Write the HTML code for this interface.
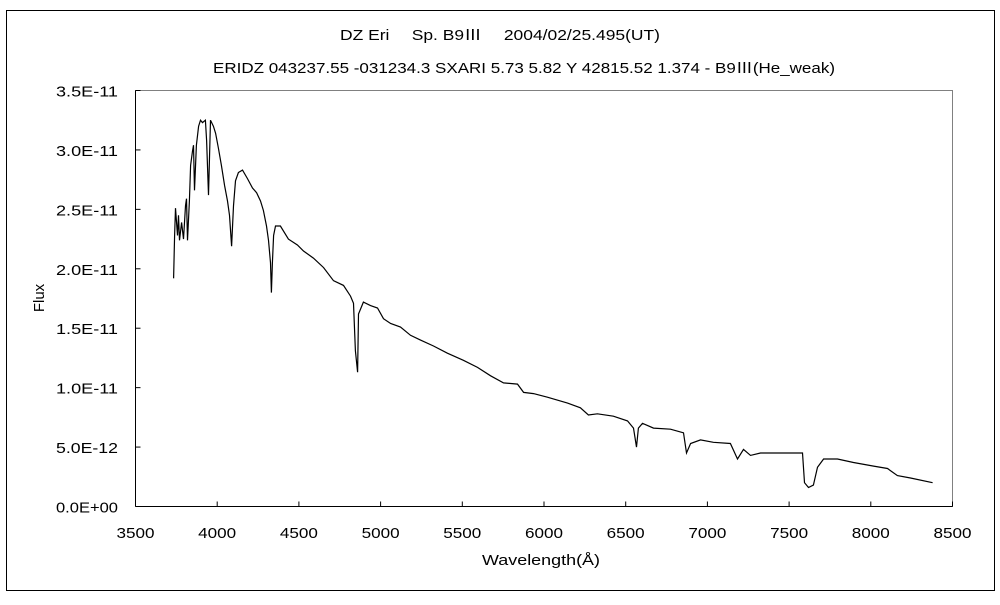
<!DOCTYPE html>
<html><head><meta charset="utf-8"><style>
html,body{margin:0;padding:0;background:#fff;}
svg text{font-family:"Liberation Sans","Noto Sans CJK JP",sans-serif;font-size:15px;fill:#000;}
</style></head><body>
<svg id="chart" width="1000" height="600" xmlns="http://www.w3.org/2000/svg">
<rect x="6.5" y="10.5" width="988" height="580" fill="#fff" stroke="#000" stroke-width="1"/>
<text x="500" y="40" text-anchor="middle" textLength="320" lengthAdjust="spacingAndGlyphs">DZ Eri　 Sp. B9Ⅲ　 2004/02/25.495(UT)</text>
<text x="524" y="73" text-anchor="middle" textLength="622" lengthAdjust="spacingAndGlyphs">ERIDZ 043237.55 -031234.3 SXARI 5.73 5.82 Y 42815.52 1.374 - B9Ⅲ(He_weak)</text>
<rect x="135.5" y="90.5" width="817" height="416" fill="#fff" stroke="#808080" stroke-width="1"/>
<g id="axes"></g>
<path id="line" fill="none" stroke="#000" stroke-width="1.2"/>
<text x="541" y="565" text-anchor="middle" textLength="118" lengthAdjust="spacingAndGlyphs">Wavelength(Å)</text>
<text x="44" y="298" text-anchor="middle" transform="rotate(-90 44 298)">Flux</text>
</svg>
<script>
const xTicks=[3500,4000,4500,5000,5500,6000,6500,7000,7500,8000,8500];
const yTicks=[0,0.5,1.0,1.5,2.0,2.5,3.0,3.5];
const yTickLabels=["0.0E+00","5.0E-12","1.0E-11","1.5E-11","2.0E-11","2.5E-11","3.0E-11","3.5E-11"];
const wavelengths=[3733,3739,3745,3757,3763,3769,3782,3794,3806,3812,3818,3830,3837,3849,3855,3861,3873,3886,3898,3910,3928,3935,3947,3959,3977,3990,4008,4026,4045,4063,4075,4088,4100,4112,4130,4155,4185,4216,4241,4265,4283,4302,4314,4326,4332,4338,4345,4357,4387,4436,4491,4528,4589,4651,4712,4773,4816,4834,4846,4859,4865,4895,4938,4981,5018,5061,5122,5183,5244,5324,5409,5507,5593,5673,5752,5838,5875,5936,6021,6144,6223,6272,6327,6425,6511,6548,6566,6578,6603,6670,6774,6854,6872,6897,6958,7037,7141,7184,7221,7264,7325,7490,7582,7594,7619,7649,7674,7711,7796,7894,8017,8102,8163,8243,8378];
const fluxE11=[1.92,2.28,2.51,2.28,2.45,2.24,2.39,2.25,2.53,2.59,2.24,2.57,2.87,2.99,3.04,2.66,3.04,3.20,3.25,3.23,3.25,3.08,2.62,3.25,3.20,3.14,3.01,2.87,2.70,2.57,2.45,2.19,2.53,2.74,2.81,2.83,2.76,2.68,2.64,2.57,2.49,2.36,2.24,2.05,1.80,2.05,2.28,2.36,2.36,2.25,2.20,2.15,2.09,2.01,1.90,1.86,1.77,1.71,1.31,1.13,1.62,1.72,1.69,1.67,1.58,1.54,1.51,1.44,1.40,1.35,1.29,1.23,1.17,1.10,1.04,1.03,0.96,0.95,0.92,0.87,0.83,0.77,0.78,0.76,0.72,0.66,0.50,0.66,0.70,0.66,0.65,0.62,0.45,0.53,0.56,0.54,0.53,0.40,0.48,0.43,0.45,0.45,0.45,0.20,0.16,0.18,0.33,0.40,0.40,0.37,0.34,0.32,0.26,0.24,0.20];
const X0=135.5,X1=952.5,Y0=506.5,Y1=90.5;
const xs=v=>X0+(v-3500)/(8500-3500)*(X1-X0);
const ys=v=>Y0-(v/3.5)*(Y0-Y1);
const NS="http://www.w3.org/2000/svg";
const axes=document.getElementById('axes');
function mk(tag,attrs){const e=document.createElementNS(NS,tag);for(const k in attrs)e.setAttribute(k,attrs[k]);axes.appendChild(e);return e;}
xTicks.forEach(v=>{
  const t=mk('line',{x1:xs(v),x2:xs(v),y1:Y0-5,y2:Y0,stroke:'#000'});
  
  
  const l=mk('text',{x:xs(v),y:538,'text-anchor':'middle',textLength:38,lengthAdjust:'spacingAndGlyphs'});
  
  
  l.textContent=v;
});
yTicks.forEach((v,i)=>{
  const t=mk('line',{x1:X0,x2:X0+5,y1:ys(v),y2:ys(v),stroke:'#000'});
  
  
  const l=mk('text',{x:118,y:ys(v)+6,'text-anchor':'end',textLength:62,lengthAdjust:'spacingAndGlyphs'});
  
  
  l.textContent=yTickLabels[i];
});
mk('line',{x1:X0,x2:X0,y1:Y1,y2:Y0,stroke:'#000'});
mk('line',{x1:X0,x2:X1,y1:Y0,y2:Y0,stroke:'#000'});
let d='';
wavelengths.forEach((w,i)=>{d+=(i?'L':'M')+xs(w).toFixed(1)+' '+ys(fluxE11[i]).toFixed(1);});
document.getElementById('line').setAttribute('d',d);
</script>
</body></html>
